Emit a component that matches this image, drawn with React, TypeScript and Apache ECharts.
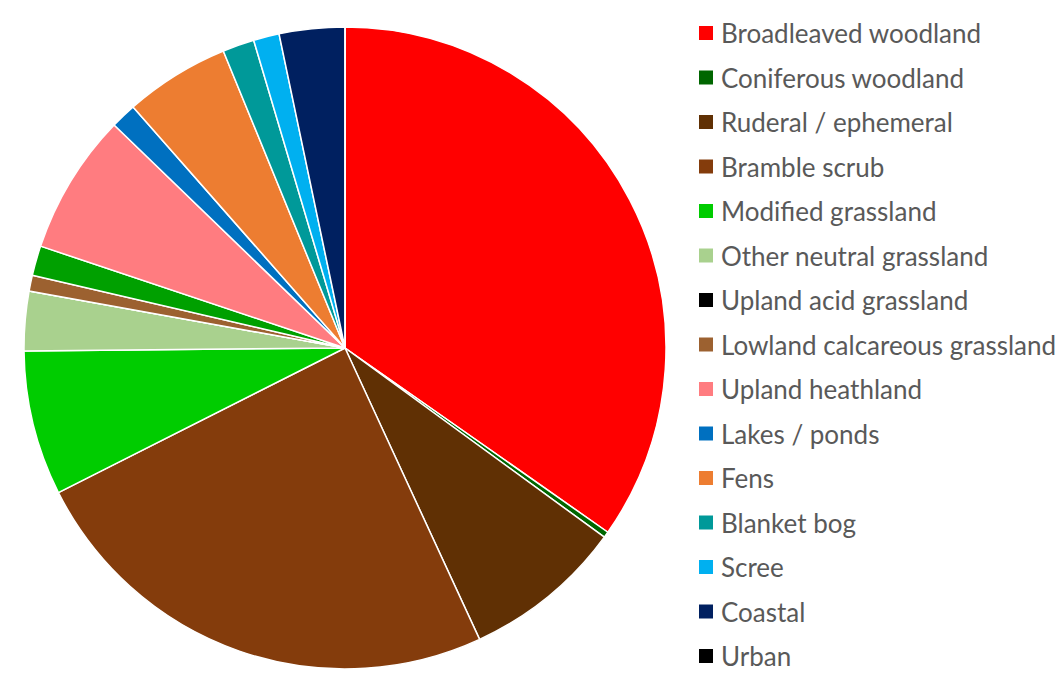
import React, { useEffect, useRef } from "react";
import * as echarts from "echarts";

const categories = [
  "Broadleaved woodland",
  "Coniferous woodland",
  "Ruderal / ephemeral",
  "Bramble scrub",
  "Modified grassland",
  "Other neutral grassland",
  "Upland acid grassland",
  "Lowland calcareous grassland",
  "Unlisted",
  "Upland heathland",
  "Lakes / ponds",
  "Fens",
  "Blanket bog",
  "Scree",
  "Coastal",
  "Urban",
];

const values = [34.8, 0.3, 8.1, 24.5, 7.3, 3.0, 0, 0.8, 1.5, 7.1, 1.3, 5.3, 1.6, 1.3, 3.3, 0];

const colors = [
  "#FF0000",
  "#006600",
  "#603004",
  "#843C0C",
  "#00CC00",
  "#A9D18E",
  "#000000",
  "#9C6130",
  "#00A000",
  "#FF7C80",
  "#0070C0",
  "#ED7D31",
  "#009999",
  "#00B0F0",
  "#002060",
  "#000000",
];

const legendItems = categories.filter((c) => c !== "Unlisted");

export default function App() {
  const ref = useRef<HTMLDivElement>(null);
  useEffect(() => {
    if (!ref.current) return;
    const chart = echarts.init(ref.current, undefined, { renderer: "svg" });
    chart.setOption({
      animation: false,
      backgroundColor: "#ffffff",
      legend: {
        orient: "vertical",
        left: 697,
        top: 19,
        padding: 0,
        icon: "rect",
        itemWidth: 16,
        itemHeight: 16,
        itemGap: 16.5,
        data: legendItems,
        textStyle: {
          fontFamily: "Lato",
          fontSize: 26,
          lineHeight: 28,
          color: "#595959",
          padding: [0, 0, 0, 2],
        },
      },
      series: [
        {
          type: "pie",
          center: [345, 348],
          radius: 321,
          startAngle: 90,
          clockwise: true,
          label: { show: false },
          labelLine: { show: false },
          emphasis: { disabled: true },
          itemStyle: { borderColor: "#ffffff", borderWidth: 1.5 },
          data: categories.map((name, i) => ({
            name,
            value: values[i],
            itemStyle: { color: colors[i] },
          })),
        },
      ],
    });
    return () => chart.dispose();
  }, []);
  return (
    <div
      ref={ref}
      style={{ position: "fixed", left: 0, top: 0, width: 1059, height: 683 }}
    />
  );
}
